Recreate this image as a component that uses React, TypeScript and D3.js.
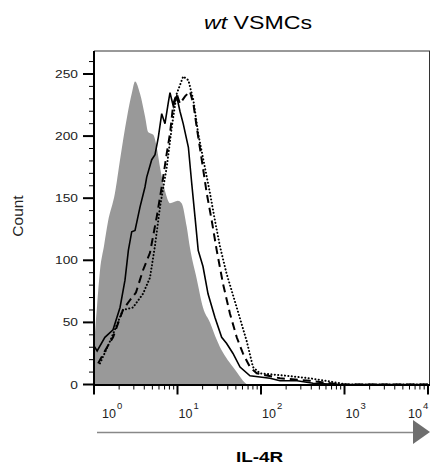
import React from "react";
import * as d3 from "d3";

// ---- data (x = fluorescence intensity, y = count) ----
const grayX = [1.0, 1.03, 1.09, 1.18, 1.32, 1.47, 1.78, 2.05, 2.48, 2.85, 3.1, 3.56, 4.08, 4.47, 5.13, 5.64, 6.17, 7.08, 8.13, 10.1, 11.2, 12.9, 14.1, 17.0, 20.2, 24.5, 29.5, 32.3, 38, 46.2, 55, 60.8, 68];
const grayY = [30, 43, 64, 92, 112, 131, 154, 181, 215, 235, 244, 234, 216, 203, 201, 191, 175, 156, 146, 148, 146, 127, 110, 85, 62, 50, 36, 30, 22, 14, 7, 3, 0];

const solidX = [1.0, 1.09, 1.35, 1.69, 2.05, 2.35, 2.58, 2.83, 3.1, 3.56, 4.08, 4.28, 4.91, 5.38, 5.89, 6.47, 7.08, 7.76, 8.13, 8.91, 9.78, 10.7, 11.7, 13.5, 14.8, 16.2, 17.7, 20.2, 23.2, 28.1, 33.8, 38.8, 46.2, 56.1, 73.8, 97.3, 128, 169, 270, 420, 884, 10000];
const solidY = [31, 27, 38, 44, 62, 84, 108, 123, 124, 143, 159, 167, 181, 185, 199, 218, 210, 227, 235, 224, 232, 220, 210, 191, 162, 135, 108, 95, 73, 54, 38, 33, 25, 14, 7, 6, 5, 3, 3, 1, 0, 0];

const dashX = [1.12, 1.35, 1.69, 2.22, 2.7, 3.18, 3.86, 4.68, 5.64, 6.47, 7.43, 8.13, 8.91, 9.78, 10.7, 12.3, 14.1, 15.5, 17.0, 19.5, 22.4, 25.7, 29.5, 35.1, 42.5, 51.2, 60.8, 73.8, 88.9, 169, 386, 884, 10000];
const dashY = [17, 27, 38, 60, 68, 74, 92, 106, 135, 159, 186, 202, 226, 234, 226, 232, 236, 226, 207, 181, 154, 132, 108, 81, 57, 38, 25, 14, 9, 5, 3, 0, 0];

const dotX = [1.18, 1.56, 2.22, 2.93, 3.86, 4.68, 5.38, 6.17, 7.43, 8.53, 9.78, 11.7, 13.5, 15.5, 17.7, 20.4, 24.5, 28.1, 32.3, 38.8, 51.2, 67.4, 80.2, 97.3, 205, 386, 728, 1072, 10000];
const dotY = [17, 35, 60, 62, 73, 86, 112, 143, 175, 207, 234, 248, 245, 229, 202, 181, 154, 132, 111, 89, 62, 35, 14, 9, 7, 5, 2, 0, 0];

const yMajorTicks = [0, 50, 100, 150, 200, 250];
const yMinorTicks = [10, 20, 30, 40, 60, 70, 80, 90, 110, 120, 130, 140, 160, 170, 180, 190, 210, 220, 230, 240, 260];
const xDecades = [0, 1, 2, 3, 4];

const title = { italic: "wt", rest: " VSMCs" };
const xLabel = "IL-4R";
const yLabel = "Count";

// ---- layout ----
const W = 430, H = 466;
const left = 94, right = 430, top = 51, bottom = 384.5;
const yMax = 268.5;

export default function App() {
  const x = d3.scaleLog().domain([1, 10000]).range([94, 428]);
  const y = d3.scaleLinear().domain([0, yMax]).range([bottom, top]);

  const pts = (xs: number[], ys: number[]) => xs.map((v, i) => [v, ys[i]] as [number, number]);

  const area = d3.area<[number, number]>()
    .x(d => x(d[0]))
    .y0(y(0))
    .y1(d => y(d[1]))
    .curve(d3.curveMonotoneX);
  const line = d3.line<[number, number]>()
    .x(d => x(d[0]))
    .y(d => y(d[1]))
    .curve(d3.curveLinear);

  const minorX: number[] = [];
  xDecades.slice(0, -1).forEach(k => {
    for (let m = 2; m <= 9; m++) minorX.push(m * Math.pow(10, k));
  });

  return (
    <svg width={W} height={H} style={{ position: "absolute", left: 0, top: 0, background: "#fff" }}
      fontFamily="'Liberation Sans', Arial, sans-serif">
      <defs>
        <clipPath id="plotclip">
          <rect x={left} y={top} width={right - left} height={bottom - top} />
        </clipPath>
      </defs>

      {/* title */}
      <text x={258} y={29} fontSize={18} textAnchor="middle" textLength={108} lengthAdjust="spacingAndGlyphs">
        <tspan fontStyle="italic">{title.italic}</tspan>
        <tspan>{title.rest}</tspan>
      </text>

      {/* frame */}
      <line x1={left} x2={right} y1={top} y2={top} stroke="#333" strokeWidth={1} />
      <line x1={right - 0.5} x2={right - 0.5} y1={top} y2={bottom} stroke="#333" strokeWidth={1} />

      {/* data */}
      <g clipPath="url(#plotclip)">
        <path d={area(pts(grayX, grayY)) || ""} fill="#999999" />
        <path d={line(pts(solidX, solidY)) || ""} fill="none" stroke="#000" strokeWidth={1.6} />
        <path d={line(pts(dashX, dashY)) || ""} fill="none" stroke="#000" strokeWidth={2} strokeDasharray="8,5" />
        <path d={line(pts(dotX, dotY)) || ""} fill="none" stroke="#000" strokeWidth={2} strokeDasharray="0.1,3.3" strokeLinecap="round" />
      </g>

      {/* y axis */}
      <line x1={left} x2={left} y1={top} y2={bottom + 1} stroke="#000" strokeWidth={2} />
      {yMajorTicks.map(t => (
        <g key={"ym" + t}>
          <line x1={83} x2={left} y1={y(t)} y2={y(t)} stroke="#000" strokeWidth={2} />
          <text transform={`translate(78,${y(t) + 4}) scale(1.25,1)`} fontSize={11} textAnchor="end" fill="#222">{t}</text>
        </g>
      ))}
      {yMinorTicks.map(t => (
        <line key={"yn" + t} x1={89} x2={left} y1={y(t)} y2={y(t)} stroke="#000" strokeWidth={1} />
      ))}
      <text transform={`translate(23,216) rotate(-90)`} fontSize={15.5} textAnchor="middle" fill="#222">{yLabel}</text>

      {/* x axis */}
      <line x1={left - 1} x2={right} y1={bottom + 0.5} y2={bottom + 0.5} stroke="#000" strokeWidth={2} />
      {xDecades.map(k => {
        const tx = x(Math.pow(10, k));
        const lx = Math.min(Math.max(tx + 1, left + 8), right - 22);
        return (
          <g key={"xm" + k}>
            <line x1={tx} x2={tx} y1={bottom} y2={bottom + 10} stroke="#000" strokeWidth={2} />
            <text x={lx} y={418} fontSize={12.5} fill="#222">
              10
              <tspan dx={1} dy={-9} fontSize={9.5}>{k}</tspan>
            </text>
          </g>
        );
      })}
      {minorX.map(v => (
        <line key={"xn" + v} x1={x(v)} x2={x(v)} y1={bottom} y2={bottom + 5} stroke="#000" strokeWidth={1} />
      ))}

      {/* arrow */}
      <line x1={97} x2={414} y1={432.5} y2={432.5} stroke="#888" strokeWidth={1.5} />
      <path d="M413,420 L430,432 L413,444 Z" fill="#6e6e6e" />

      {/* x label */}
      <text transform={`translate(259.5,462) scale(1.22,1)`} fontSize={15.5} fontWeight="bold" textAnchor="middle">{xLabel}</text>
    </svg>
  );
}
